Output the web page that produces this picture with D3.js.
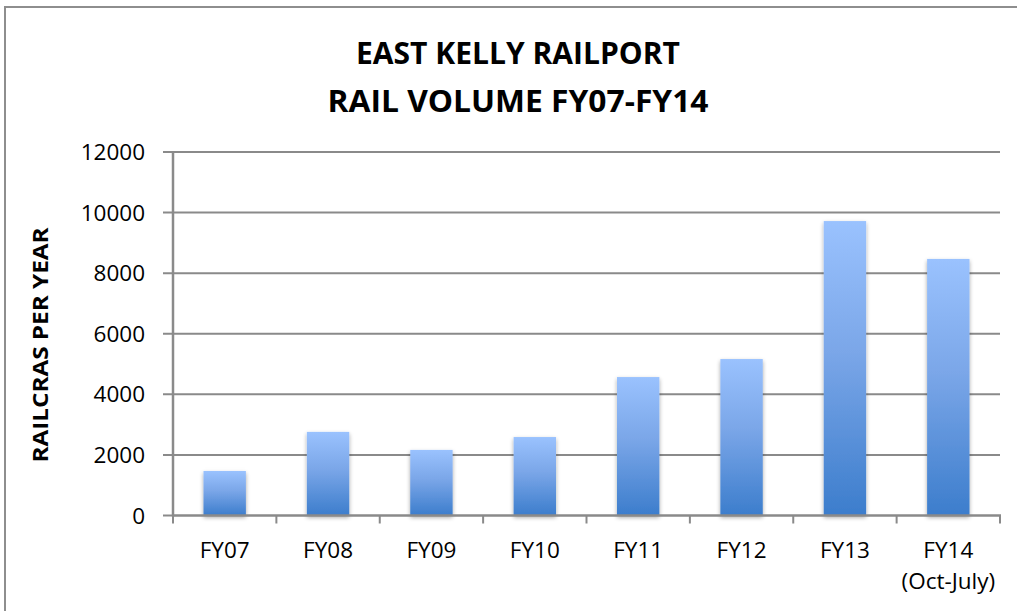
<!DOCTYPE html>
<html>
<head>
<meta charset="utf-8">
<script src="https://cdn.jsdelivr.net/npm/d3@7"></script>
<style>
  html, body { margin: 0; padding: 0; background: #fff; }
  svg { display: block; }
  text { font-family: "Open Sans", "Noto Sans", sans-serif; fill: #000; }
</style>
</head>
<body>
<svg id="chart" width="1017" height="611"></svg>
<script>
const categories = ["FY07", "FY08", "FY09", "FY10", "FY11", "FY12", "FY13", "FY14"];
const subLabels = ["", "", "", "", "", "", "", "(Oct-July)"];
const values = [1470, 2760, 2165, 2590, 4570, 5165, 9720, 8470];
const yTicks = [0, 2000, 4000, 6000, 8000, 10000, 12000];
const titleLines = ["EAST KELLY RAILPORT", "RAIL VOLUME FY07-FY14"];
const yTitle = "RAILCRAS PER YEAR";

const svg = d3.select("#chart");
const W = 1017, H = 611;
const plot = { left: 173, right: 1000, top: 152, bottom: 515.5 };

// outer frame
svg.append("rect")
  .attr("x", 5).attr("y", 7)
  .attr("width", W + 20).attr("height", H + 20)
  .attr("fill", "#fff")
  .attr("stroke", "#8e8e8e").attr("stroke-width", 2);

const defs = svg.append("defs");
const grad = defs.append("linearGradient")
  .attr("id", "barGrad").attr("x1", 0).attr("y1", 0).attr("x2", 0).attr("y2", 1);
grad.append("stop").attr("offset", "0%").attr("stop-color", "#9ac2fe");
grad.append("stop").attr("offset", "45%").attr("stop-color", "#7aa6e8");
grad.append("stop").attr("offset", "100%").attr("stop-color", "#3c7dcc");

const shadow = defs.append("filter").attr("id", "shadow")
  .attr("x", "-30%").attr("y", "-10%").attr("width", "160%").attr("height", "125%");
shadow.append("feGaussianBlur").attr("in", "SourceAlpha").attr("stdDeviation", 2.2).attr("result", "blur");
shadow.append("feOffset").attr("in", "blur").attr("dx", 0).attr("dy", 1.5).attr("result", "off");
shadow.append("feComponentTransfer").attr("in", "off").attr("result", "soft")
  .append("feFuncA").attr("type", "linear").attr("slope", 0.35);
const merge = shadow.append("feMerge");
merge.append("feMergeNode").attr("in", "soft");
merge.append("feMergeNode").attr("in", "SourceGraphic");

const x = d3.scaleBand().domain(categories).range([plot.left, plot.right]).paddingInner(0).paddingOuter(0);
const y = d3.scaleLinear().domain([0, 12000]).range([plot.bottom, plot.top]);

// gridlines (with left ticks)
svg.append("g").selectAll("line").data(yTicks.filter(d => d > 0)).join("line")
  .attr("x1", plot.left - 10).attr("x2", plot.right)
  .attr("y1", d => y(d)).attr("y2", d => y(d))
  .attr("stroke", "#8a8a8a").attr("stroke-width", 2);

// y tick labels
svg.append("g").selectAll("text").data(yTicks).join("text")
  .attr("x", 145).attr("y", d => y(d))
  .attr("dy", "0.36em")
  .attr("text-anchor", "end")
  .attr("font-size", 22.5)
  .text(d => d);

// bars
const barW = x.bandwidth() * 0.41;
svg.append("g").selectAll("rect").data(values).join("rect")
  .attr("x", (d, i) => x(categories[i]) + (x.bandwidth() - barW) / 2)
  .attr("y", d => y(d))
  .attr("width", barW)
  .attr("height", d => y(0) - y(d))
  .attr("fill", "url(#barGrad)")
  .attr("filter", "url(#shadow)");

// y axis line
svg.append("line")
  .attr("x1", plot.left).attr("x2", plot.left)
  .attr("y1", plot.top).attr("y2", plot.bottom + 1)
  .attr("stroke", "#8a8a8a").attr("stroke-width", 2.5);
// zero tick
svg.append("line")
  .attr("x1", plot.left - 10).attr("x2", plot.left)
  .attr("y1", y(0)).attr("y2", y(0))
  .attr("stroke", "#8a8a8a").attr("stroke-width", 2);

// x axis line
svg.append("line")
  .attr("x1", plot.left - 1).attr("x2", plot.right + 1)
  .attr("y1", y(0)).attr("y2", y(0))
  .attr("stroke", "#8a8a8a").attr("stroke-width", 2.5);

// x ticks at category boundaries
const bounds = categories.map(c => x(c)).concat([plot.right]);
svg.append("g").selectAll("line").data(bounds).join("line")
  .attr("x1", d => d).attr("x2", d => d)
  .attr("y1", y(0)).attr("y2", y(0) + 8)
  .attr("stroke", "#8a8a8a").attr("stroke-width", 2);

// x labels
const xl = svg.append("g");
xl.selectAll("text.main").data(categories).join("text").attr("class", "main")
  .attr("x", d => x(d) + x.bandwidth() / 2)
  .attr("y", 558)
  .attr("text-anchor", "middle")
  .attr("font-size", 22.5)
  .text(d => d);
xl.selectAll("text.sub").data(categories).join("text").attr("class", "sub")
  .attr("x", d => x(d) + x.bandwidth() / 2)
  .attr("y", 589)
  .attr("text-anchor", "middle")
  .attr("font-size", 22.5)
  .text((d, i) => subLabels[i]);

// title
svg.append("text")
  .attr("x", 518).attr("y", 64)
  .attr("text-anchor", "middle")
  .attr("font-size", 31).attr("font-weight", "bold")
  .attr("textLength", 324).attr("lengthAdjust", "spacingAndGlyphs")
  .text(titleLines[0]);
svg.append("text")
  .attr("x", 518).attr("y", 112)
  .attr("text-anchor", "middle")
  .attr("font-size", 31).attr("font-weight", "bold")
  .attr("textLength", 381).attr("lengthAdjust", "spacingAndGlyphs")
  .text(titleLines[1]);

// y axis title
svg.append("text")
  .attr("transform", "translate(48,345) rotate(-90)")
  .attr("text-anchor", "middle")
  .attr("font-size", 20.5).attr("font-weight", "bold")
  .attr("textLength", 235).attr("lengthAdjust", "spacingAndGlyphs")
  .text(yTitle);
</script>
</body>
</html>
